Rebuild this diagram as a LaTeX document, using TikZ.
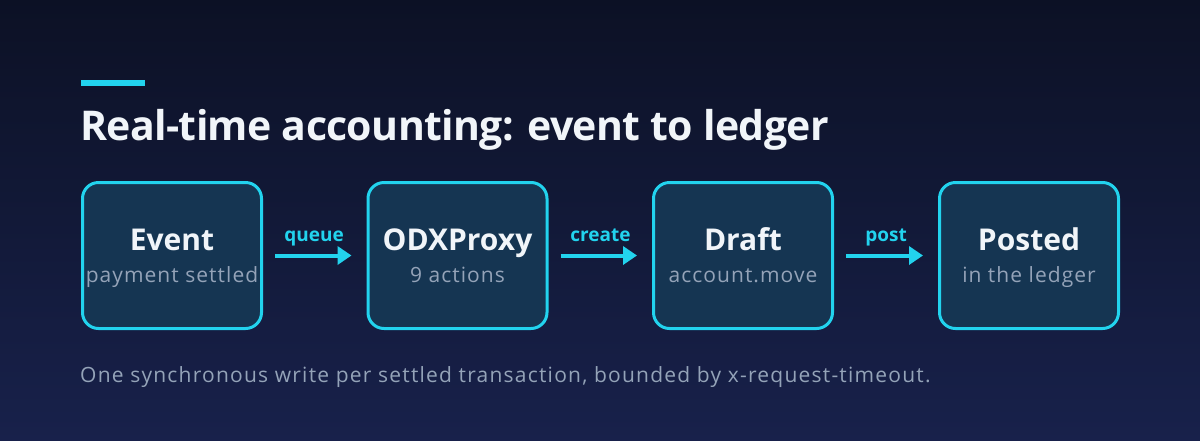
\documentclass[tikz,border=0pt]{standalone}
\usepackage{fontspec}
\setmainfont{Open Sans}
\newfontfamily\spacedfont[LetterSpace=5]{Open Sans}
\newfontfamily\footfont[LetterSpace=5.8]{Open Sans}
\newfontfamily\headfont[LetterSpace=-1.5]{Open Sans}
\usetikzlibrary{arrows.meta}
\definecolor{bgtop}{HTML}{0C1125}
\definecolor{bgbot}{HTML}{18214B}
\definecolor{cyanc}{HTML}{22D3EE}
\definecolor{boxfill}{HTML}{153552}
\definecolor{titlec}{HTML}{F1F5F9}
\definecolor{subc}{HTML}{94A3B8}
\tikzset{
  stage/.style={draw=cyanc, line width=3pt, fill=boxfill, rounded corners=16pt,
    minimum width=179pt, minimum height=146pt, inner sep=0pt},
  stagetitle/.style={text=titlec, font=\bfseries\fontsize{30}{34}\selectfont, inner sep=0pt, anchor=base},
  stagesub/.style={text=subc, font=\spacedfont\fontsize{21}{24}\selectfont, inner sep=0pt, anchor=base},
  flow/.style={draw=cyanc, line width=4pt, -{Triangle[length=14pt,width=18pt]},
    shorten <=12pt, shorten >=15pt},
  flowlabel/.style={text=cyanc, font=\bfseries\fontsize{19}{22}\selectfont, inner sep=0pt, anchor=base},
}
\begin{document}
\begin{tikzpicture}[x=1pt,y=-1pt]
\shade[top color=bgtop, bottom color=bgbot] (0,0) rectangle (1200,440);
\useasboundingbox (0,0) rectangle (1200,440);
\fill[cyanc] (81,80) rectangle (145,86);
\node[anchor=base west, inner sep=0pt, text=titlec, font=\headfont\bfseries\fontsize{41}{48}\selectfont] (title) at (80,140) {Real-time accounting: event to ledger};

\node[stage] (e) at (172,255.5) {};
\node[stage] (o) at (457.5,255.5) {};
\node[stage] (d) at (743,255.5) {};
\node[stage] (p) at (1029,255.5) {};

\foreach \n/\t/\s in {e/Event/payment settled, o/ODXProxy/9 actions, d/Draft/account.move, p/Posted/in the ledger}{
  \node[stagetitle] (\n t) at ([yshift=5.5pt]\n.center) {\t};
  \node[stagesub] (\n s) at ([yshift=-26.5pt]\n.center) {\s};
}

\draw[flow] (e) -- (o);
\draw[flow] (o) -- (d);
\draw[flow] (d) -- (p);
\node[flowlabel] (l1) at (314,241) {queue};
\node[flowlabel] (l2) at (600.5,241) {create};
\node[flowlabel] (l3) at (886,241) {post};

\node[anchor=base west, inner sep=0pt, text=subc, font=\footfont\fontsize{21}{24}\selectfont] (foot) at (80,382) {One synchronous write per settled transaction, bounded by x-request-timeout.};
\end{tikzpicture}
\end{document}
